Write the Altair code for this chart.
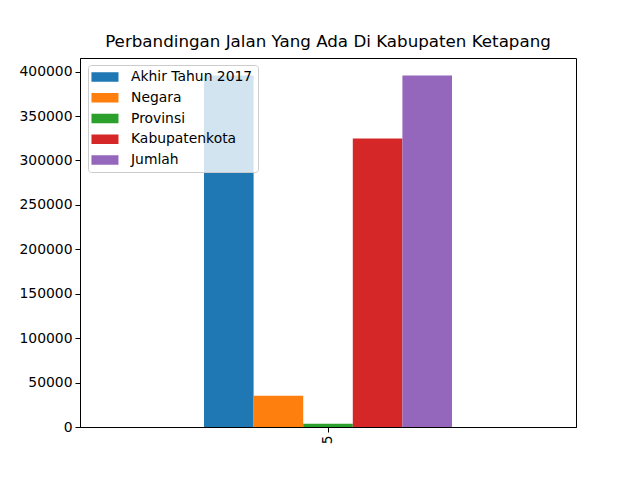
import altair as alt
import pandas as pd

categories = ["5"]
series = ["Akhir Tahun 2017", "Negara", "Provinsi", "Kabupatenkota", "Jumlah"]
values = [395500, 35200, 3700, 324700, 395500]
colors = ["#1f77b4", "#ff7f0e", "#2ca02c", "#d62728", "#9467bd"]
y_ticks = list(range(0, 400001, 50000))
y_max = 415275

df = pd.DataFrame({
    "kategori": categories * len(series),
    "seri": series,
    "nilai": values,
})

font = "DejaVu Sans"

chart = alt.Chart(df).mark_bar(strokeWidth=0).encode(
    x=alt.X("kategori:N",
            scale=alt.Scale(paddingInner=0, paddingOuter=0.5),
            axis=alt.Axis(title=None, labelAngle=270, labelAlign="right",
                          labelBaseline="middle", labelFont=font, labelFontSize=13.9,
                          labelColor="black", tickColor="black", domainColor="black",
                          tickSize=5, labelPadding=3)),
    xOffset=alt.XOffset("seri:N", sort=series,
                        scale=alt.Scale(paddingInner=0, paddingOuter=0)),
    y=alt.Y("nilai:Q",
            scale=alt.Scale(domain=[0, y_max], nice=False),
            axis=alt.Axis(values=y_ticks, title=None, grid=False, labelFont=font,
                          labelFontSize=13.9, labelColor="black", tickColor="black",
                          domainColor="black", tickSize=5, labelPadding=3, format="d")),
    color=alt.Color("seri:N", sort=series,
                    scale=alt.Scale(domain=series, range=colors),
                    legend=alt.Legend(title=None, orient="none", legendX=8, legendY=7,
                                      padding=5, strokeColor="#cccccc",
                                      fillColor="rgba(255,255,255,0.8)", cornerRadius=3,
                                      labelFont=font, labelFontSize=13.9, labelColor="black",
                                      symbolType="M-1.22,-0.68L2.64,-0.68L2.64,0.68L-1.22,0.68Z",
                                      symbolSize=196, symbolStrokeWidth=0, symbolOpacity=1,
                                      labelOffset=24, rowPadding=6.75)),
).properties(
    width=496,
    height=369,
    title=alt.Title("Perbandingan Jalan Yang Ada Di Kabupaten Ketapang",
                    font=font, fontSize=16.7, fontWeight="normal", color="black",
                    anchor="middle", offset=7),
    autosize=alt.AutoSizeParams(type="none"),
    padding={"left": 72, "top": 50, "right": 56, "bottom": 45},
).configure_view(stroke="black", strokeWidth=1)

chart.save("out.html", embed_options={"renderer": "svg", "actions": False})
